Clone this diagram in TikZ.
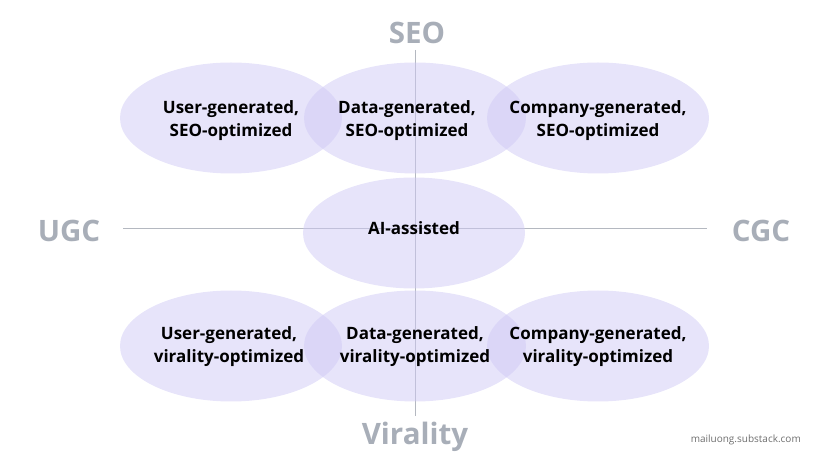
\documentclass[tikz,border=0pt]{standalone}
\usepackage{fontspec}
\setmainfont{Open Sans}
\usetikzlibrary{shapes.geometric}
\definecolor{ellfill}{RGB}{207,201,245}
\definecolor{axisgray}{RGB}{168,174,184}
\definecolor{linegray}{RGB}{180,184,192}
\definecolor{markgray}{RGB}{110,110,110}
\tikzset{
  bubble/.style={ellipse, fill=ellfill, fill opacity=0.5,
    minimum width=222pt, minimum height=111pt, inner sep=0pt},
  bubbletext/.style={align=center, inner sep=0pt,
    font=\fontsize{17}{23}\selectfont\bfseries, text=black},
  axislabel/.style={font=\fontsize{29.5}{31}\selectfont\bfseries, text=axisgray, inner sep=0pt},
  axis/.style={draw=linegray, line width=1pt},
}
\begin{document}
\begin{tikzpicture}[x=1pt,y=1pt]
\useasboundingbox (0,0) rectangle (828,466);
% axes
\coordinate (vtop) at (415,416);
\coordinate (vbot) at (415,50);
\coordinate (hleft) at (123,237);
\coordinate (hright) at (707,237);
\draw[axis] (vtop) -- (vbot);
\draw[axis] (hleft) -- (hright);
% labels
\node[axislabel] (seo) at (417,433) {SEO};
\node[axislabel] (vir) at (415,29) {Virality};
\node[axislabel] (ugc) at (69,235) {UGC};
\node[axislabel] (cgc) at (761,235) {CGC};
% bubbles
\node[bubble] (utE) at (231,348) {};
\node[bubble] (dtE) at (415,348) {};
\node[bubble] (ctE) at (598,348) {};
\node[bubble] (aiE) at (414,233) {};
\node[bubble] (ubE) at (231,120) {};
\node[bubble] (dbE) at (415,120) {};
\node[bubble] (cbE) at (598,120) {};
% texts
\node[bubbletext] (ut) at ([yshift=-2.5pt]utE.center) {User-generated,\\SEO-optimized};
\node[bubbletext] (dt) at ([xshift=-8pt,yshift=-2.5pt]dtE.center) {Data-generated,\\SEO-optimized};
\node[bubbletext] (ct) at ([yshift=-2.5pt]ctE.center) {Company-generated,\\SEO-optimized};
\node[bubbletext] (ai) at ([yshift=5pt]aiE.center) {AI-assisted};
\node[bubbletext] (ub) at ([xshift=-2pt,yshift=-1pt]ubE.center) {User-generated,\\virality-optimized};
\node[bubbletext] (db) at ([yshift=-1pt]dbE.center) {Data-generated,\\virality-optimized};
\node[bubbletext] (cb) at ([yshift=-1pt]cbE.center) {Company-generated,\\virality-optimized};
% watermark
\node[font=\fontsize{10}{12}\selectfont, text=markgray, anchor=east, inner sep=0pt] (mark) at (801,26) {mailuong.substack.com};
\end{tikzpicture}
\end{document}
